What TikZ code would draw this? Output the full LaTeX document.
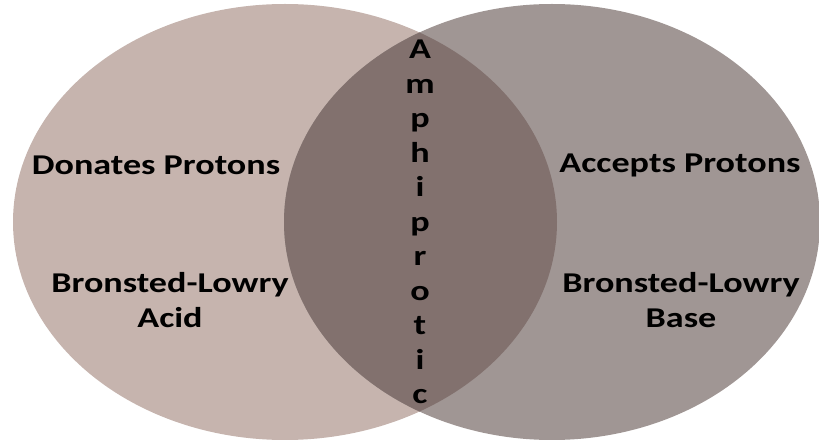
\documentclass[tikz,border=0pt]{standalone}
\usepackage{fontspec}
\setmainfont{Carlito}
\definecolor{acidfill}{HTML}{C6B4AE}
\definecolor{basefill}{HTML}{A09694}
\definecolor{bothfill}{HTML}{82716E}
\newcommand{\wide}[1]{\scalebox{1.26}[1]{#1}}
\begin{document}
\begin{tikzpicture}[x=0.75pt,y=-0.75pt]
\tikzstyle{every node}+=[inner sep=0pt]
\tikzstyle{label}=[font=\bfseries\fontsize{21.5}{26}\selectfont,align=center,text=black]
\useasboundingbox (0,0) rectangle (819,442);
\fill [acidfill] (285,222) ellipse (272 and 218);
\fill [basefill] (552,222) ellipse (268 and 218);
\begin{scope}
\clip (285,222) ellipse (272 and 218);
\fill [bothfill] (552,222) ellipse (268 and 218);
\end{scope}
\node [label] (donates) at (156,165) {\wide{Donates Protons}};
\node [label] (acid) at (170,300) {\wide{Bronsted-Lowry}\\\wide{Acid}};
\node [label] (accepts) at (680,165) {\wide{Accepts Protons}};
\node [label] (base) at (681,300) {\wide{Bronsted-Lowry}\\\wide{Base}};
\node [font=\bfseries\fontsize{21.5}{25.9}\selectfont,align=center] (amph) at (420,222)
  {\wide{A}\\\wide{m}\\\wide{p}\\\wide{h}\\\wide{i}\\\wide{p}\\\wide{r}\\\wide{o}\\\wide{t}\\\wide{i}\\\wide{c}};
\end{tikzpicture}
\end{document}
